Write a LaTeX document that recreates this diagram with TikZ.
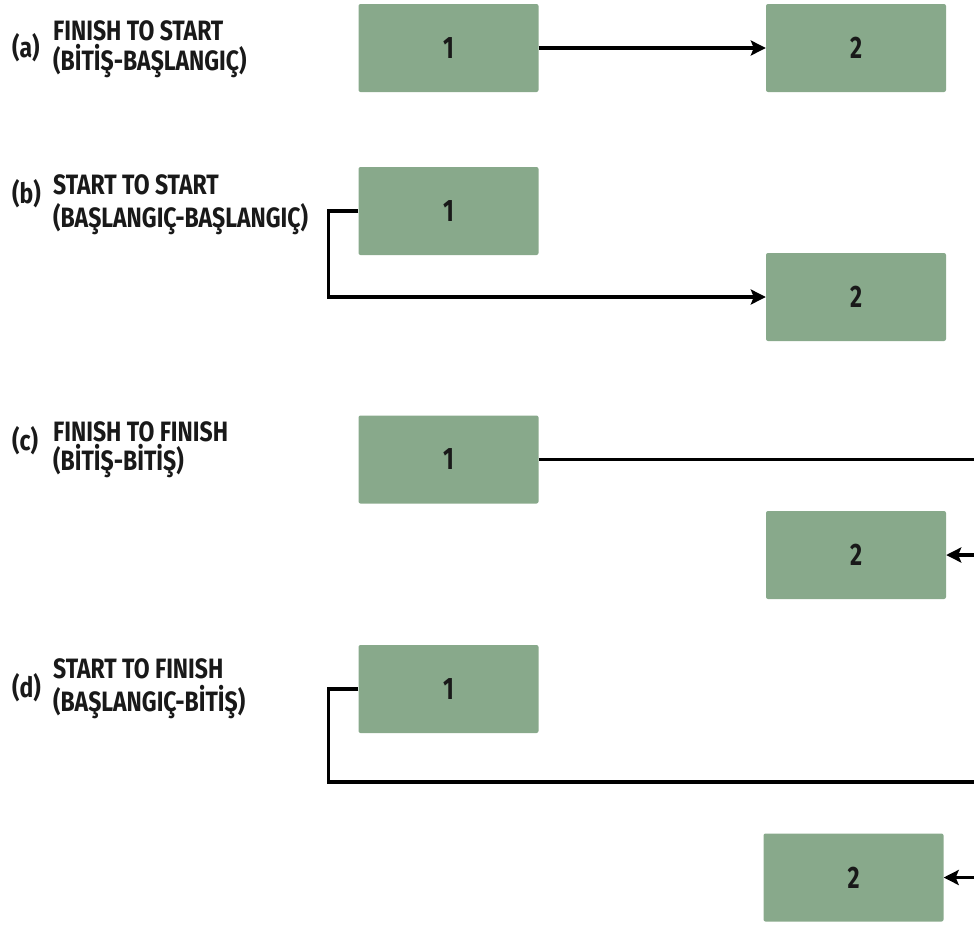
\documentclass[tikz,border=0pt]{standalone}
\usepackage{fontspec}
\setmainfont{Fira Sans}
\newfontfamily\labfont{Fira Sans}[FakeStretch=0.82]
\newfontfamily\digfont{Fira Sans}[FakeStretch=0.75]
\usetikzlibrary{arrows.meta}
\definecolor{boxgreen}{HTML}{88A98B}
\begin{document}
\begin{tikzpicture}[x=1pt,y=-1pt,
  actbox/.style={fill=boxgreen, rounded corners=2pt, minimum width=180pt, minimum height=88pt, inner sep=0pt, text=black!90, font=\digfont\bfseries\fontsize{31}{31}\selectfont},
  conn/.style={line width=3.3pt},
  arr/.style={conn,-{Stealth[length=15pt,width=15pt,inset=3pt]}},
  lab/.style={anchor=base west, inner sep=0pt, text=black!90, font=\labfont\bfseries\fontsize{28}{30}\selectfont},
]
\useasboundingbox (0,0) rectangle (974,929);
% (a)
\node[actbox] (a1) at (448.5,48) {1};
\node[actbox] (a2) at (856,48) {2};
\node[lab] (ta) at (12,57) {(a)};
\node[lab] (ta1) at (53,40) {FINISH TO START};
\node[lab] (ta2) at (53,70) {(BİTİŞ-BAŞLANGIÇ)};
\draw[arr] (a1) -- (a2);
% (b)
\node[actbox] (b1) at (448.5,211) {1};
\node[actbox] (b2) at (856,297) {2};
\node[lab] (tb) at (12,203) {(b)};
\node[lab] (tb1) at (53,194) {START TO START};
\node[lab] (tb2) at (53,227) {(BAŞLANGIÇ-BAŞLANGIÇ)};
\draw[arr] (b1.west) -- ++(-30,0) |- (b2.west);
% (c)
\node[actbox] (c1) at (448.5,459.5) {1};
\node[actbox] (c2) at (856,555) {2};
\node[lab] (tc) at (12,450) {(c)};
\node[lab] (tc1) at (53,441) {FINISH TO FINISH};
\node[lab] (tc2) at (53,470) {(BİTİŞ-BİTİŞ)};
\coordinate (cR) at (974,459.5);
\draw[conn] (c1.east) -- (cR);
\draw[arr] (c2.east -| cR) -- (c2.east);
% (d)
\node[actbox] (d1) at (448.5,689) {1};
\node[actbox] (d2) at (853.5,877.5) {2};
\node[lab] (td) at (12,697) {(d)};
\node[lab] (td1) at (53,678) {START TO FINISH};
\node[lab] (td2) at (53,711) {(BAŞLANGIÇ-BİTİŞ)};
\coordinate (dR) at (974,782);
\draw[conn] (d1.west) -- ++(-30,0) |- (dR);
\draw[arr] (d2.east -| dR) -- (d2.east);
\end{tikzpicture}
\end{document}
